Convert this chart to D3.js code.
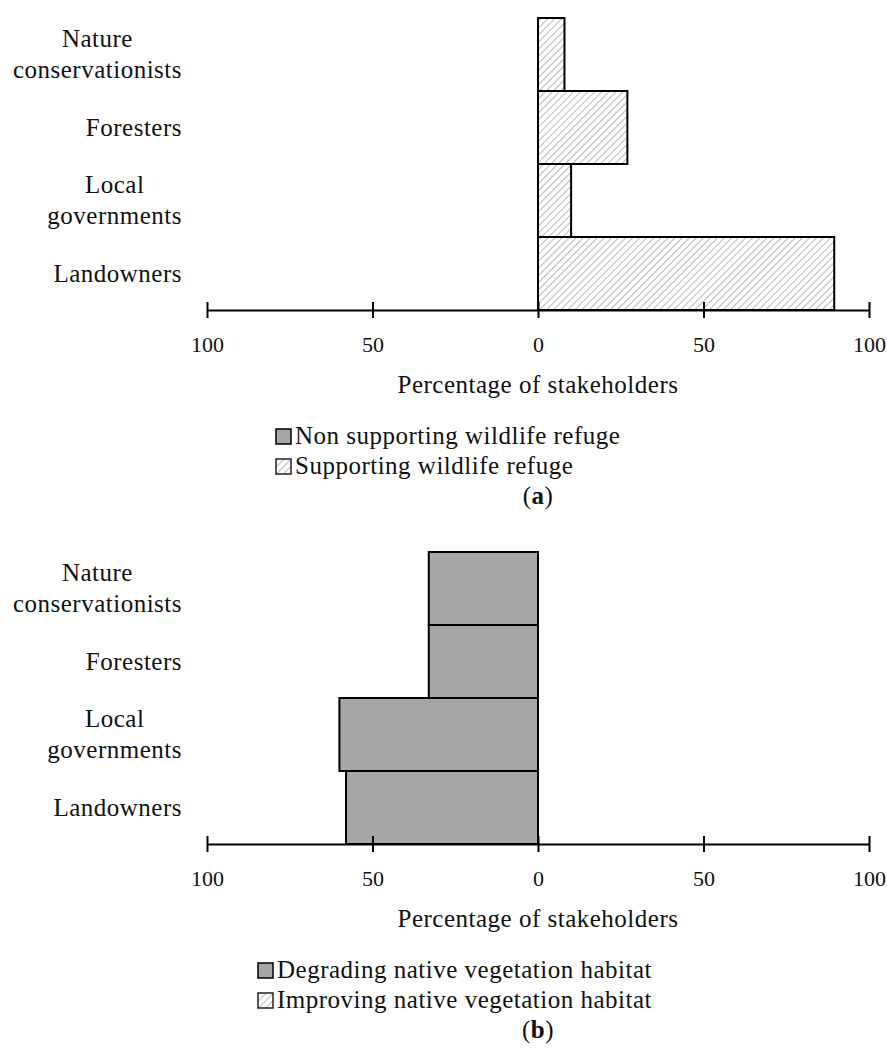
<!DOCTYPE html>
<html>
<head>
<meta charset="utf-8">
<script src="https://cdn.jsdelivr.net/npm/d3@7/dist/d3.min.js"></script>
<style>
  html, body { margin: 0; padding: 0; background: #fff; }
  svg { display: block; }
  text { font-family: "Liberation Serif", "Times New Roman", serif; fill: #111; }
  .cat-label, .axis-title, .legend-text, .caption { font-size: 25px; letter-spacing: 0.5px; }
  .tick text { font-family: "Liberation Serif", serif; font-size: 22px; fill: #111; }
</style>
</head>
<body>
<svg id="chart" width="887" height="1048"></svg>
<script>
// categories, top to bottom
const categories = ["Nature conservationists", "Foresters", "Local governments", "Landowners"];
const categoryLines = [["Nature", "conservationists"], ["Foresters"], ["Local", "governments"], ["Landowners"]];

// panel (a): wildlife refuge
const nonSupportingRefuge = [0, 0, 0, 0];
const supportingRefuge = [8, 27, 10, 89.5];

// panel (b): native vegetation habitat
const degradingHabitat = [33, 33, 60, 58];
const improvingHabitat = [0, 0, 0, 0];

const tickValues = [-100, -50, 0, 50, 100];

const GRAY = "#a6a6a6";

const panels = [
  {
    id: "a",
    top: 18, axisY: 310,
    left: { label: "Non supporting wildlife refuge", values: nonSupportingRefuge },
    right: { label: "Supporting wildlife refuge", values: supportingRefuge },
    legendX: 276
  },
  {
    id: "b",
    top: 552, axisY: 844,
    left: { label: "Degrading native vegetation habitat", values: degradingHabitat },
    right: { label: "Improving native vegetation habitat", values: improvingHabitat },
    legendX: 258
  }
];

const svg = d3.select("#chart");

// hatch pattern for the "positive" series
const defs = svg.append("defs");
const pat = defs.append("pattern")
  .attr("id", "hatch")
  .attr("patternUnits", "userSpaceOnUse")
  .attr("width", 5)
  .attr("height", 5)
  .attr("patternTransform", "rotate(45)");
pat.append("rect").attr("width", 5).attr("height", 5).attr("fill", "#fff");
pat.append("line")
  .attr("x1", 0).attr("y1", 0).attr("x2", 0).attr("y2", 5)
  .attr("stroke", "#b0b0b0")
  .attr("stroke-width", 1.8);

const x = d3.scaleLinear().domain([-100, 100]).range([207, 869]);
const labelRight = 182;

panels.forEach(p => {
  const g = svg.append("g").attr("class", "panel-" + p.id);

  const y = d3.scaleBand()
    .domain(categories)
    .range([p.top, p.axisY])
    .paddingInner(0)
    .paddingOuter(0);

  // left-going (solid gray) bars
  const leftData = categories.map((c, i) => ({ cat: c, v: p.left.values[i] })).filter(d => d.v > 0);
  g.selectAll("rect.left")
    .data(leftData)
    .join("rect")
    .attr("class", "left")
    .attr("x", d => x(-d.v))
    .attr("y", d => y(d.cat))
    .attr("width", d => x(0) - x(-d.v))
    .attr("height", y.bandwidth())
    .attr("fill", GRAY)
    .attr("stroke", "#000")
    .attr("stroke-width", 2);

  // right-going (hatched) bars
  const rightData = categories.map((c, i) => ({ cat: c, v: p.right.values[i] })).filter(d => d.v > 0);
  g.selectAll("rect.right")
    .data(rightData)
    .join("rect")
    .attr("class", "right")
    .attr("x", x(0))
    .attr("y", d => y(d.cat))
    .attr("width", d => x(d.v) - x(0))
    .attr("height", y.bandwidth())
    .attr("fill", "url(#hatch)")
    .attr("stroke", "#000")
    .attr("stroke-width", 2);

  // category labels (multi-line blocks, centred lines, right edge aligned)
  categories.forEach((c, i) => {
    const lines = categoryLines[i];
    const cy = y(c) + y.bandwidth() / 2;
    const t = g.append("text").attr("class", "cat-label").attr("text-anchor", "middle");
    lines.forEach((ln, j) => {
      t.append("tspan")
        .attr("y", cy + 8 - (lines.length - 1) * 31 / 2 + j * 31)
        .text(ln);
    });
    const widths = t.selectAll("tspan").nodes().map(n => n.getComputedTextLength());
    const w = d3.max(widths);
    t.selectAll("tspan").attr("x", labelRight - w / 2);
  });

  // axis
  const axis = g.append("g")
    .attr("transform", `translate(0,${p.axisY})`)
    .call(d3.axisBottom(x).tickValues(tickValues).tickSize(8).tickSizeOuter(0).tickFormat(d => Math.abs(d)));
  axis.select(".domain").attr("stroke", "#000").attr("stroke-width", 2);
  axis.selectAll(".tick line").attr("y1", -8).attr("y2", 8).attr("stroke", "#000").attr("stroke-width", 2);
  axis.selectAll(".tick text").attr("y", 42).attr("dy", null);

  g.append("text")
    .attr("class", "axis-title")
    .attr("x", x(0))
    .attr("y", p.axisY + 83)
    .attr("text-anchor", "middle")
    .text("Percentage of stakeholders");

  // legend
  const legendItems = [
    { label: p.left.label, fill: GRAY, stroke: "#000" },
    { label: p.right.label, fill: "url(#hatch)", stroke: "#222" }
  ];
  legendItems.forEach((item, i) => {
    const base = p.axisY + 134 + i * 30;
    g.append("rect")
      .attr("x", p.legendX)
      .attr("y", base - 15)
      .attr("width", 15)
      .attr("height", 15)
      .attr("fill", item.fill)
      .attr("stroke", item.stroke)
      .attr("stroke-width", 1.5);
    g.append("text")
      .attr("class", "legend-text")
      .attr("x", p.legendX + 19)
      .attr("y", base)
      .text(item.label);
  });

  const cap = g.append("text")
    .attr("class", "caption")
    .attr("x", x(0))
    .attr("y", p.axisY + 194)
    .attr("text-anchor", "middle");
  cap.append("tspan").text("(");
  cap.append("tspan").attr("font-weight", "bold").text(p.id);
  cap.append("tspan").text(")");
});
</script>
</body>
</html>
